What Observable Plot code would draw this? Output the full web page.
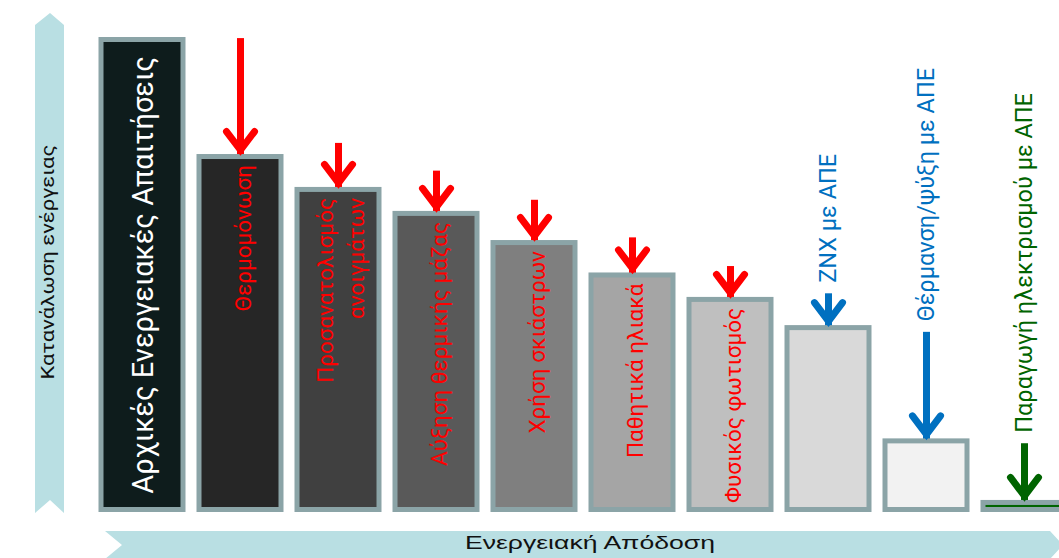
<!DOCTYPE html>
<html>
<head>
<meta charset="utf-8">
<script src="https://cdn.jsdelivr.net/npm/d3@7"></script>
<script src="https://cdn.jsdelivr.net/npm/@observablehq/plot@0.6"></script>
<style>
  html, body { margin: 0; padding: 0; background: #ffffff; overflow: hidden; }
  #chart svg { display: block; }
</style>
</head>
<body>
<div id="chart"></div>
<script>
// ---------- data ----------
const categories = [
  "Αρχικές Ενεργειακές Απαιτήσεις",
  "Θερμομόνωση",
  "Προσανατολισμός ανοιγμάτων",
  "Αύξηση θερμικής μάζας",
  "Χρήση σκιάστρων",
  "Παθητικά ηλιακά",
  "Φυσικός φωτισμός",
  "ZNX με ΑΠΕ",
  "Θέρμανση/ψύξη με ΑΠΕ",
  "Παραγωγή ηλεκτρισμού με ΑΠΕ"
];
const labels = [
  "Αρχικές Ενεργειακές Απαιτήσεις",
  "Θερμομόνωση",
  "Προσανατολισμός\nανοιγμάτων",
  "Αύξηση θερμικής μάζας",
  "Χρήση σκιάστρων",
  "Παθητικά ηλιακά",
  "Φυσικός φωτισμός",
  "ZNX με ΑΠΕ",
  "Θέρμανση/ψύξη με ΑΠΕ",
  "Παραγωγή ηλεκτρισμού με ΑΠΕ"
];
// remaining energy consumption after each measure (initial = 100)
const consumption = [100, 75.1, 68.1, 63.0, 56.8, 49.9, 44.7, 38.7, 14.6, 1.5];
// where each measure's arrow starts (same units)
const arrowStart = [null, 100.3, 78.0, 72.1, 65.9, 57.9, 51.8, 46.0, 37.8, 14.1];
const barFills = ["#0e1c1c", "#262626", "#404040", "#595959", "#7f7f7f", "#a5a5a5", "#bfbfbf", "#d9d9d9", "#f2f2f2", "#006400"];
const arrowColors = [null, "#ff0000", "#ff0000", "#ff0000", "#ff0000", "#ff0000", "#ff0000", "#0070c0", "#0070c0", "#006400"];
const labelPlacement = ["main", "inside", "inside", "inside", "inside", "inside", "inside", "above", "above", "above"];
const yAxisTitle = "Κατανάλωση ενέργειας";
const xAxisTitle = "Ενεργειακή Απόδοση";

// ---------- build ----------
const data = categories.map((c, i) => ({
  cat: c, label: labels[i], value: consumption[i], start: arrowStart[i],
  fill: barFills[i], arrow: arrowColors[i], place: labelPlacement[i]
}));
const arrows = data.filter(d => d.start != null);

const FONT = "Roboto, 'Noto Sans', sans-serif";
const BORDER = "#8ba4a7";
const AXIS_BG = "#b9dfe3";

// open chevron arrowhead, tip at origin pointing down
const chevron = {
  draw(ctx, size) {
    const r = Math.sqrt(size / Math.PI);
    ctx.moveTo(-r, -1.82 * r);
    ctx.lineTo(0, -0.5 * r);
    ctx.lineTo(r, -1.82 * r);
  }
};

const plot = Plot.plot({
  width: 1059,
  height: 558,
  marginTop: 0, marginBottom: 0, marginLeft: 0, marginRight: 0,
  style: {background: "transparent", overflow: "visible"},
  x: {domain: categories, range: [99.5, 1066.2], paddingInner: 0.166, paddingOuter: 0, axis: null},
  y: {domain: [0, 100], range: [509.5, 39.5], axis: null},
  color: {type: "identity"},
  marks: [
    Plot.ruleX(arrows, {x: "cat", y1: "start", y2: "value", stroke: "arrow", strokeWidth: 7}),
    Plot.barY(data, {x: "cat", y: "value", fill: "fill", stroke: BORDER, strokeWidth: 5}),
    Plot.dot(arrows, {x: "cat", y: "value", symbol: chevron, r: 14, fill: "none", stroke: "arrow",
      strokeWidth: 7, strokeLinejoin: "miter", strokeLinecap: "round"}),
    Plot.text(data.filter(d => d.place === "main"), {
      x: "cat", y: d => d.value / 2, text: "label", rotate: -90, fill: "white",
      fontSize: 29, fontFamily: FONT, textAnchor: "middle", lineAnchor: "middle", dx: 1
    }),
    Plot.text(data.filter(d => d.place === "inside"), {
      x: "cat", y: "value", text: "label", rotate: -90, fill: "arrow",
      fontSize: 22.5, fontFamily: FONT, textAnchor: "end", lineAnchor: "middle", lineHeight: 1.4, dy: 8
    }),
    Plot.text(data.filter(d => d.place === "above"), {
      x: "cat", y: "start", text: "label", rotate: -90, fill: "arrow",
      fontSize: 23.5, fontFamily: FONT, textAnchor: "start", lineAnchor: "middle", dy: -11
    })
  ]
});

// decorative axis arrows (background layer) with axis titles
const svg = d3.select(plot);
const deco = svg.insert("g", ":first-child");
deco.append("rect").attr("x", 0).attr("y", 0).attr("width", 1059).attr("height", 558).attr("fill", "#ffffff");
deco.append("polygon")
  .attr("points", "35,25 50,13 64,25 64,513 50,500 35,513")
  .attr("fill", AXIS_BG);
deco.append("polygon")
  .attr("points", "105,531 1050,531 1063,545 1050,559 105,559 122,545")
  .attr("fill", AXIS_BG);
deco.append("text")
  .attr("transform", "translate(47,262) rotate(-90)")
  .attr("text-anchor", "middle").attr("dy", "0.35em")
  .attr("font-family", FONT).attr("font-size", 19).attr("fill", "#111")
  .attr("textLength", 235).attr("lengthAdjust", "spacingAndGlyphs")
  .text(yAxisTitle);
deco.append("text")
  .attr("x", 590).attr("y", 549)
  .attr("text-anchor", "middle")
  .attr("font-family", "'Liberation Sans', Arial, sans-serif").attr("font-size", 17.5).attr("fill", "#111")
  .attr("textLength", 250).attr("lengthAdjust", "spacingAndGlyphs")
  .text(xAxisTitle);

document.getElementById("chart").appendChild(plot);
</script>
</body>
</html>
